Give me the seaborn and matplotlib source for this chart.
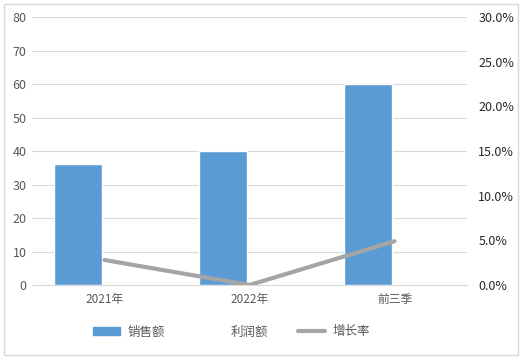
import seaborn as sns
import matplotlib.pyplot as plt
import matplotlib.patches as mpatches
from matplotlib.lines import Line2D
from matplotlib.ticker import PercentFormatter
import numpy as np
import pandas as pd

# chart data
periods = ["2021年", "2022年", "前三季"]
series_names = ["销售额", "利润额", "增长率"]
sales = [36, 40, 60]
profit = [0, 0, 0]
growth = [2.8, 0.0, 4.9]  # percent

df = pd.DataFrame({
    "period": periods * 2,
    "value": sales + profit,
    "series": [series_names[0]] * 3 + [series_names[1]] * 3,
})

sns.set_style("white")
plt.rcParams["font.family"] = ["Noto Sans CJK SC", "DejaVu Sans"]

fig = plt.figure(figsize=(5.26, 3.62), dpi=100)
ax = fig.add_axes([0.0608, 0.2127, 0.8272, 0.7403])

bar_blue = "#5B9BD5"
line_gray = "#A5A5A5"
grid_col = "#D9D9D9"

sns.barplot(data=df, x="period", y="value", hue="series", ax=ax,
            palette=[bar_blue, "white"], width=0.72, gap=0.08,
            legend=False, saturation=1)

ax.set_ylim(0, 80)
ax.set_yticks(range(0, 81, 10))
ax.set_xlim(-0.5, 2.5)
ax.grid(axis="y", color=grid_col, linewidth=0.8)
ax.set_axisbelow(True)
ax.set_xlabel("")
ax.set_ylabel("")
for s in ["top", "right", "left"]:
    ax.spines[s].set_visible(False)
ax.spines["bottom"].set_color(grid_col)
ax.tick_params(axis="both", length=0, labelsize=9, colors="#595959")
ax.tick_params(axis="x", pad=6, labelsize=8.5)
ax.tick_params(axis="y", pad=4)

ax2 = ax.twinx()
sns.lineplot(x=np.arange(len(periods)), y=growth, ax=ax2,
             color=line_gray, linewidth=3, solid_capstyle="round")
ax2.set_ylim(0, 30)
ax2.set_yticks(range(0, 31, 5))
ax2.yaxis.set_major_formatter(PercentFormatter(decimals=1))
ax2.tick_params(axis="y", length=0, labelsize=9, colors="#262626", pad=8)
for s in ax2.spines.values():
    s.set_visible(False)
ax2.set_ylabel("")

handles = [
    mpatches.Patch(color=bar_blue),
    mpatches.Patch(color="white"),
    Line2D([0], [0], color=line_gray, linewidth=3, solid_capstyle="round"),
]
fig.legend(handles, series_names, loc="center", bbox_to_anchor=(0.44, 0.083),
           ncol=3, frameon=False, fontsize=9, labelcolor="#595959",
           handlelength=2.2, columnspacing=2.4, handletextpad=0.6)

fig.patches.append(mpatches.Rectangle((0.008, 0.019), 0.977, 0.97,
                                      transform=fig.transFigure, fill=False,
                                      edgecolor=grid_col, linewidth=1))

fig.savefig("out.png", dpi=100)
